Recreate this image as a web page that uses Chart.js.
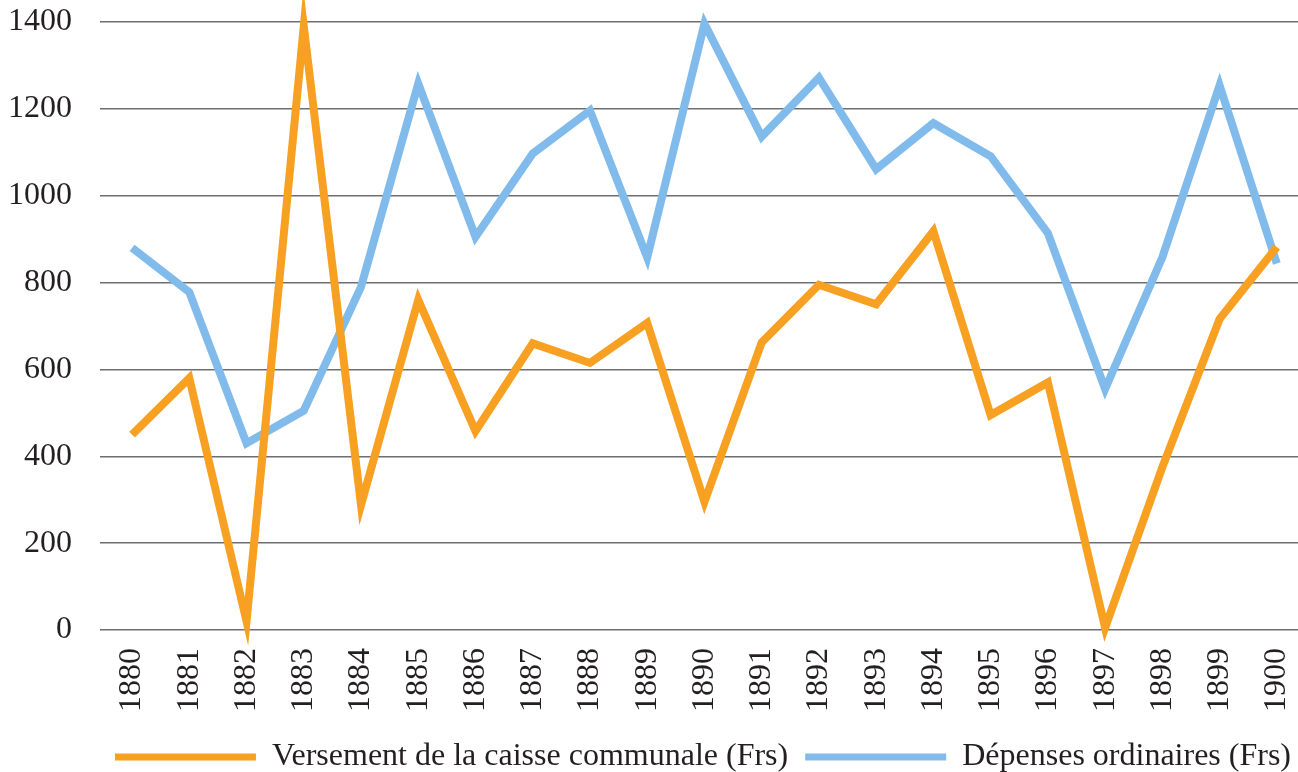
<!DOCTYPE html>
<html>
<head>
<meta charset="utf-8">
<script src="https://cdn.jsdelivr.net/npm/chart.js@4"></script>
<style>
  html, body { margin: 0; padding: 0; background: #fff; }
  #wrap { width: 1298px; height: 772px; }
</style>
</head>
<body>
<div id="wrap"><canvas id="chart"></canvas></div>
<script>
// years on the x axis
const years = [1880, 1881, 1882, 1883, 1884, 1885, 1886, 1887, 1888, 1889, 1890,
               1891, 1892, 1893, 1894, 1895, 1896, 1897, 1898, 1899, 1900];

// Versement de la caisse communale (Frs)
const versement = [450, 580, 20, 1390, 288, 760, 458, 660, 615, 707, 295,
                   662, 795, 750, 918, 495, 570, 5, 375, 716, 882];

// Dépenses ordinaires (Frs)
const depenses = [880, 778, 430, 505, 790, 1258, 905, 1097, 1196, 858, 1396,
                  1136, 1272, 1061, 1167, 1091, 914, 555, 858, 1254, 844];

const yTicks = [0, 200, 400, 600, 800, 1000, 1200, 1400];

const orange = "#f8a021";
const blue = "#80bbec";
const serif = "'Liberation Serif', 'DejaVu Serif', serif";
const ink = "#231f20";

function points(vals) {
  return years.map((yr, i) => ({ x: yr, y: vals[i] }));
}

const ctx = document.getElementById("chart").getContext("2d");

new Chart(ctx, {
  type: "line",
  data: {
    datasets: [{
      label: "Versement de la caisse communale (Frs)",
      data: points(versement),
      borderColor: orange,
      backgroundColor: orange,
      borderWidth: 8,
      borderJoinStyle: "miter",
      borderCapStyle: "butt",
      pointRadius: 0,
      tension: 0,
      clip: false
    }, {
      label: "Dépenses ordinaires (Frs)",
      data: points(depenses),
      borderColor: blue,
      backgroundColor: blue,
      borderWidth: 8,
      borderJoinStyle: "miter",
      borderCapStyle: "butt",
      pointRadius: 0,
      tension: 0,
      clip: false
    }]
  },
  options: {
    responsive: true,
    maintainAspectRatio: false,
    animation: false,
    layout: { padding: { left: 9, right: -10, top: 22, bottom: -11 } },
    plugins: {
      tooltip: { enabled: false },
      legend: {
        position: "bottom",
        align: "end",
        labels: {
          font: { family: serif, size: 32 },
          color: ink,
          boxWidth: 141,
          boxHeight: 7,
          padding: 17,
          generateLabels: (chart) => chart.data.datasets.map((ds, i) => ({
            text: ds.label,
            fillStyle: ds.borderColor,
            strokeStyle: ds.borderColor,
            lineWidth: 0,
            fontColor: ink,
            datasetIndex: i
          }))
        }
      }
    },
    scales: {
      x: {
        type: "linear",
        min: 1879.44,
        max: 1900.37,
        afterBuildTicks: (scale) => { scale.ticks = years.map(v => ({ value: v })); },
        afterFit: (scale) => {
          scale.height = 94;
          scale.paddingLeft = 0;
          scale.paddingRight = 0;
        },
        grid: { display: false, drawTicks: false },
        border: { display: false },
        ticks: {
          minRotation: 90,
          maxRotation: 90,
          padding: 18,
          autoSkip: false,
          color: ink,
          font: { family: serif, size: 32 },
          callback: (v) => String(v)
        }
      },
      y: {
        min: 0,
        max: 1400,
        afterBuildTicks: (scale) => { scale.ticks = yTicks.map(v => ({ value: v })); },
        afterFit: (scale) => {
          scale.width = 91;
          scale.paddingTop = 0;
          scale.paddingBottom = 0;
        },
        grid: { color: "#6e6f72", lineWidth: 1.5, drawTicks: false },
        border: { display: false },
        ticks: {
          padding: 28,
          color: ink,
          font: { family: serif, size: 32 },
          callback: (v) => String(v)
        }
      }
    }
  }
});
</script>
</body>
</html>
